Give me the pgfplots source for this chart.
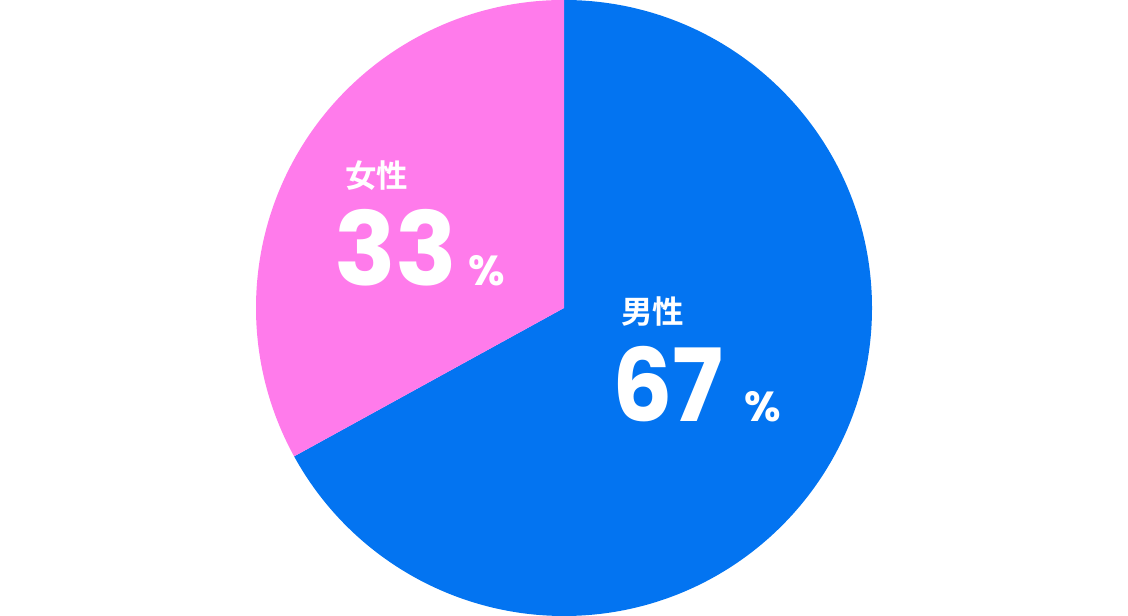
\documentclass[border=0pt]{standalone}
\usepackage{pgfplots}
\pgfplotsset{compat=1.18}
\usepackage{fontspec}
\newfontfamily\pop{Poppins}[UprightFont={* Bold}, FakeStretch=0.94]
\newfontfamily\popp{Poppins}[UprightFont={* Bold}]
\newfontfamily\cjk{Noto Sans CJK JP}[UprightFont={* Bold}]
\definecolor{mblue}{RGB}{3,116,241}
\definecolor{fpink}{RGB}{255,123,235}
\begin{document}
\begin{tikzpicture}
\pgfmathsetmacro{\male}{67}
\pgfmathsetmacro{\female}{33}
\pgfmathsetmacro{\angm}{90-\male*3.6}
\begin{axis}[hide axis, scale only axis, width=1128bp, height=616bp,
  xmin=0, xmax=1128, ymin=0, ymax=616, clip=false]
\path (axis cs:0,0) rectangle (axis cs:1128,616);
\fill[mblue] (axis cs:564,308) -- (axis cs:564,616) arc[start angle=90, end angle=\angm, radius=308bp] -- cycle;
\fill[fpink] (axis cs:564,308) -- (axis cs:564,616) arc[start angle=90, end angle=\angm+360, radius=308bp] -- cycle;
\node[anchor=base west, inner sep=0, text=white] at (axis cs:345,428) {\cjk\fontsize{31.5bp}{31.5bp}\selectfont 女性};
\node[anchor=base west, inner sep=0, text=white] at (axis cs:621,292) {\cjk\fontsize{31.5bp}{31.5bp}\selectfont 男性};
\node[anchor=base west, inner sep=0, text=white] at (axis cs:334,330) {\popp\fontsize{102bp}{102bp}\selectfont 33};
\node[anchor=base west, inner sep=0, text=white] at (axis cs:612,194) {\pop\fontsize{101bp}{101bp}\selectfont 67};
\node[anchor=base west, inner sep=0, text=white] at (axis cs:468,330) {\popp\fontsize{42bp}{42bp}\selectfont \%};
\node[anchor=base west, inner sep=0, text=white] at (axis cs:744,194) {\popp\fontsize{42bp}{42bp}\selectfont \%};
\end{axis}
\end{tikzpicture}
\end{document}
